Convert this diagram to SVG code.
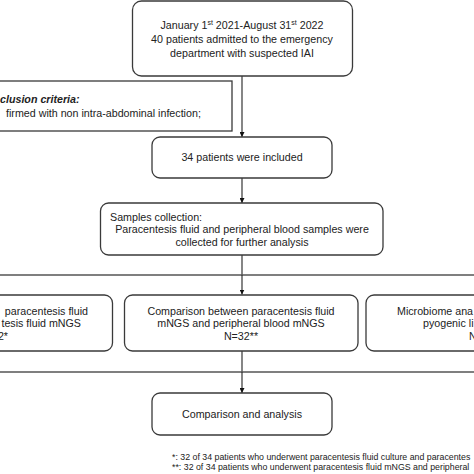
<svg xmlns="http://www.w3.org/2000/svg" width="474" height="474" viewBox="0 0 474 474">
<style>
.box{fill:#fff;stroke:#3a3a3a;stroke-width:1.3}
.t{font-family:"Liberation Sans",Arial,sans-serif;font-size:10.7px;fill:#222}
.c{text-anchor:middle}
.e{text-anchor:end}
.fn{font-family:"Liberation Sans",Arial,sans-serif;font-size:8.8px;fill:#222}
.ln{stroke:#222;stroke-width:1.1;fill:none}
.hl{stroke:#555;stroke-width:1.3;fill:none}
</style>
<defs>
<marker id="ar" viewBox="0 0 10 10" refX="10" refY="5" markerWidth="5" markerHeight="5" orient="auto" markerUnits="userSpaceOnUse">
<path d="M0,0 L10,5 L0,10 z" fill="#111"/>
</marker>
</defs>
<rect width="474" height="474" fill="#fff"/>
<g id="connectors">
<line class="ln" x1="242" y1="76" x2="242" y2="137" marker-end="url(#ar)"/>
<line class="ln" x1="242" y1="178" x2="242" y2="203" marker-end="url(#ar)"/>
<line class="ln" x1="242" y1="255" x2="242" y2="275"/>
<line class="hl" x1="-10" y1="275" x2="484" y2="275"/>
<line class="ln" x1="242" y1="275" x2="242" y2="294.5" marker-end="url(#ar)"/>
<line class="ln" x1="242" y1="351" x2="242" y2="372"/>
<line class="hl" x1="-10" y1="372" x2="484" y2="372"/>
<line class="ln" x1="242" y1="372" x2="242" y2="393" marker-end="url(#ar)"/>
</g>
<g id="start">
<rect class="box" x="132.5" y="1" width="220" height="75" rx="9"/>
<text class="t c" x="242" y="29">January 1<tspan font-size="7" dy="-4">st</tspan><tspan dy="4"> 2021-August 31</tspan><tspan font-size="7" dy="-4">st</tspan><tspan dy="4"> 2022</tspan></text>
<text class="t c" x="242" y="43">40 patients admitted to the emergency</text>
<text class="t c" x="242" y="57">department with suspected IAI</text>
</g>
<g id="exclusion">
<rect class="box" x="-20" y="81" width="252" height="50"/>
<text class="t" x="0" y="103" font-weight="bold" font-style="italic">clusion criteria:</text>
<text class="t" x="6" y="117">firmed with non intra-abdominal infection;</text>
</g>
<g id="included">
<rect class="box" x="152" y="137" width="180" height="41" rx="8"/>
<text class="t c" x="242" y="161">34 patients were included</text>
</g>
<g id="samples">
<rect class="box" x="100.5" y="203" width="282.5" height="52" rx="8"/>
<text class="t" x="110" y="221">Samples collection:</text>
<text class="t c" x="242" y="233">Paracentesis fluid and peripheral blood samples were</text>
<text class="t c" x="242" y="246">collected for further analysis</text>
</g>
<g id="left">
<rect class="box" x="-130" y="295" width="242.5" height="56" rx="8"/>
<text class="t e" x="88" y="315">paracentesis fluid</text>
<text class="t e" x="81" y="327">tesis fluid mNGS</text>
<text class="t e" x="8" y="340">2*</text>
</g>
<g id="middle">
<rect class="box" x="124.5" y="295" width="233.5" height="56" rx="8"/>
<text class="t c" x="241" y="315">Comparison between paracentesis fluid</text>
<text class="t c" x="241" y="327">mNGS and peripheral blood mNGS</text>
<text class="t c" x="241" y="340">N=32**</text>
</g>
<g id="right">
<rect class="box" x="366" y="295" width="244" height="56" rx="8"/>
<text class="t" x="397" y="315">Microbiome ana</text>
<text class="t" x="423" y="327">pyogenic li</text>
<text class="t" x="469" y="340">N</text>
</g>
<g id="final">
<rect class="box" x="152" y="393" width="180" height="42" rx="8"/>
<text class="t c" x="242" y="418">Comparison and analysis</text>
</g>
<g id="footnotes">
<text class="fn" x="172" y="460">*: 32 of 34 patients who underwent paracentesis fluid culture and paracentes</text>
<text class="fn" x="172" y="470">**: 32 of 34 patients who underwent paracentesis fluid mNGS and peripheral</text>
</g>
</svg>
